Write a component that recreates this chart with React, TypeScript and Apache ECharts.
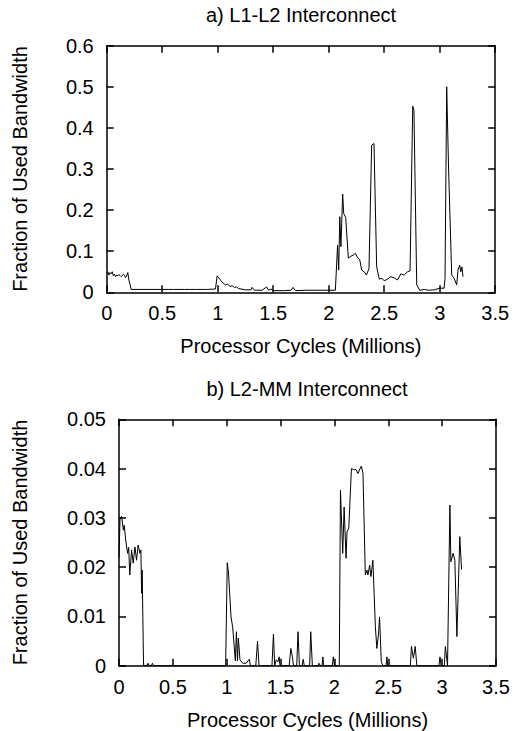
import React, { useEffect, useRef } from "react";
import * as echarts from "echarts";

// a) L1-L2 Interconnect : [Processor cycles (millions), fraction of used bandwidth]
const l1l2Data: [number, number][] = [
  [0.0, 0.045], [0.01, 0.05], [0.02, 0.042], [0.03, 0.048], [0.04, 0.045], [0.05, 0.05],
  [0.06, 0.04], [0.07, 0.044], [0.08, 0.038], [0.09, 0.042], [0.1, 0.04], [0.11, 0.043],
  [0.12, 0.041], [0.13, 0.038], [0.14, 0.04], [0.15, 0.044], [0.16, 0.042], [0.17, 0.036],
  [0.18, 0.04], [0.19, 0.048], [0.2, 0.03], [0.21, 0.02], [0.22, 0.007], [0.3, 0.007],
  [0.4, 0.007], [0.5, 0.007], [0.6, 0.007], [0.7, 0.007], [0.8, 0.007], [0.9, 0.007],
  [0.98, 0.008], [0.995, 0.04], [1.01, 0.035], [1.03, 0.028], [1.05, 0.022], [1.07, 0.018],
  [1.09, 0.02], [1.11, 0.014], [1.13, 0.016], [1.15, 0.012], [1.17, 0.013], [1.19, 0.009],
  [1.21, 0.008], [1.25, 0.006], [1.3, 0.006], [1.31, 0.012], [1.33, 0.005], [1.4, 0.005],
  [1.44, 0.013], [1.46, 0.005], [1.48, 0.008], [1.5, 0.004], [1.6, 0.004], [1.66, 0.005],
  [1.68, 0.012], [1.7, 0.004], [1.8, 0.005], [1.9, 0.005], [2.0, 0.005], [2.06, 0.005],
  [2.08, 0.115], [2.09, 0.054], [2.1, 0.184], [2.11, 0.111], [2.126, 0.239], [2.135, 0.192],
  [2.153, 0.182], [2.177, 0.083], [2.2, 0.088], [2.22, 0.09], [2.24, 0.095], [2.26, 0.085],
  [2.28, 0.079], [2.297, 0.054], [2.32, 0.05], [2.34, 0.042], [2.363, 0.058], [2.387, 0.358],
  [2.408, 0.362], [2.432, 0.062], [2.456, 0.032], [2.48, 0.034], [2.5, 0.028], [2.53, 0.032],
  [2.56, 0.038], [2.59, 0.035], [2.62, 0.03], [2.65, 0.045], [2.68, 0.042], [2.71, 0.05],
  [2.733, 0.052], [2.757, 0.453], [2.768, 0.444], [2.793, 0.018], [2.82, 0.005], [2.86, 0.007],
  [2.9, 0.005], [2.95, 0.006], [3.0, 0.01], [3.04, 0.01], [3.048, 0.034], [3.063, 0.5],
  [3.08, 0.3], [3.108, 0.042], [3.13, 0.034], [3.153, 0.018], [3.165, 0.054], [3.18, 0.066],
  [3.19, 0.05], [3.2, 0.062], [3.21, 0.038],
];

// b) L2-MM Interconnect
const l2mmData: [number, number][] = [
  [0.0, 0.022], [0.01, 0.03], [0.025, 0.0303], [0.04, 0.0275], [0.049, 0.0285], [0.062, 0.0255],
  [0.08, 0.0228], [0.09, 0.024], [0.1, 0.0184], [0.117, 0.0235], [0.132, 0.0208], [0.148, 0.0241],
  [0.163, 0.0214], [0.178, 0.0245], [0.194, 0.0228], [0.203, 0.0235], [0.21, 0.0147], [0.215, 0.0194],
  [0.228, 0], [0.26, 0], [0.27, 0.0005], [0.28, 0], [0.3, 0], [0.31, 0.0005], [0.32, 0], [0.99, 0],
  [1.005, 0.0209], [1.016, 0.019], [1.04, 0.0099], [1.055, 0.0079], [1.08, 0.001], [1.09, 0.0069],
  [1.1, 0.001], [1.108, 0.0056], [1.123, 0.0012], [1.15, 0.0005], [1.18, 0.0005], [1.21, 0.0013],
  [1.22, 0], [1.27, 0], [1.286, 0.005], [1.3, 0], [1.42, 0], [1.434, 0.0064], [1.445, 0],
  [1.46, 0.0012], [1.475, 0.0008], [1.487, 0.0018], [1.495, 0], [1.58, 0], [1.595, 0.0035],
  [1.61, 0.0018], [1.62, 0], [1.65, 0], [1.662, 0.0069], [1.675, 0], [1.7, 0], [1.71, 0.0013],
  [1.72, 0], [1.77, 0], [1.78, 0.0069], [1.795, 0], [1.85, 0], [1.856, 0.0005], [1.87, 0],
  [1.885, 0], [1.893, 0.0018], [1.9, 0], [1.98, 0], [1.99, 0.0018], [2.0, 0], [2.045, 0],
  [2.056, 0.0356], [2.077, 0.0228], [2.09, 0.0322], [2.108, 0.0218], [2.117, 0.0272], [2.133, 0.0279],
  [2.158, 0.04], [2.179, 0.0398], [2.2, 0.0398], [2.219, 0.039], [2.232, 0.0397], [2.25, 0.0405],
  [2.265, 0.039], [2.287, 0.0184], [2.302, 0.0194], [2.311, 0.0184], [2.327, 0.0204], [2.339, 0.0181],
  [2.357, 0.0214], [2.38, 0.0079], [2.394, 0.0035], [2.41, 0.0066], [2.419, 0.0099], [2.435, 0.0008],
  [2.45, 0], [2.48, 0], [2.487, 0.0018], [2.495, 0], [2.705, 0], [2.715, 0.0039], [2.733, 0.0015],
  [2.75, 0.0039], [2.765, 0], [2.97, 0], [2.98, 0.0018], [2.99, 0], [3.02, 0], [3.03, 0.0039],
  [3.05, 0], [3.072, 0.0326], [3.081, 0.0211], [3.102, 0.0228], [3.118, 0.0214], [3.137, 0.0059],
  [3.164, 0.0262], [3.18, 0.0195],
];

const titles = ["a) L1-L2 Interconnect", "b) L2-MM Interconnect"];
const xAxisName = "Processor Cycles (Millions)";
const yAxisName = "Fraction of Used Bandwidth";
const xRange = { min: 0, max: 3.5, interval: 0.5 };
const yRanges = [
  { min: 0, max: 0.6, interval: 0.1 },
  { min: 0, max: 0.05, interval: 0.01 },
];

const FONT = "'Liberation Sans', Arial, Helvetica, sans-serif";
const FS = 20;

export default function App() {
  const ref = useRef<HTMLDivElement>(null);
  useEffect(() => {
    if (!ref.current) return;
    const chart = echarts.init(ref.current, undefined, { renderer: "svg" });
    const grids = [
      { left: 106.7, top: 45.7, width: 388.5, height: 246.6 },
      { left: 119, top: 419.3, width: 377, height: 246.4 },
    ];
    const line = { show: true, onZero: false, lineStyle: { color: "#000", width: 1.5 } };
    const tick = { show: true, inside: true, length: 7, lineStyle: { color: "#000", width: 1.5 } };
    const xAxes: any[] = [];
    const yAxes: any[] = [];
    grids.forEach((_, i) => {
      xAxes.push({
        type: "value", gridIndex: i, position: "bottom", ...xRange,
        axisLine: line, axisTick: tick, splitLine: { show: false },
        axisLabel: { color: "#000", fontSize: FS, fontFamily: FONT, margin: 11 },
        name: xAxisName, nameLocation: "middle", nameGap: 44,
        nameTextStyle: { color: "#000", fontSize: FS, fontFamily: FONT },
      });
      xAxes.push({
        type: "value", gridIndex: i, position: "top", ...xRange,
        axisLine: line, axisTick: tick, splitLine: { show: false },
        axisLabel: { show: false },
      });
      yAxes.push({
        type: "value", gridIndex: i, position: "left", ...yRanges[i],
        axisLine: line, axisTick: tick, splitLine: { show: false },
        axisLabel: { color: "#000", fontSize: FS, fontFamily: FONT, margin: 13 },
      });
      yAxes.push({
        type: "value", gridIndex: i, position: "right", ...yRanges[i],
        axisLine: line, axisTick: tick, splitLine: { show: false },
        axisLabel: { show: false },
      });
    });
    const gText = (text: string, x: number, y: number, rot = 0) => ({
      type: "text", x, y, rotation: rot,
      style: { text, fill: "#000", font: `${FS}px ${FONT}`, textAlign: "center", textVerticalAlign: "middle" },
    });
    chart.setOption({
      animation: false,
      backgroundColor: "#fff",
      grid: grids,
      xAxis: xAxes,
      yAxis: yAxes,
      graphic: [
        gText(titles[0], 301, 15),
        gText(titles[1], 307, 389),
        gText(yAxisName, 20, 169, Math.PI / 2),
        gText(yAxisName, 20, 542.5, Math.PI / 2),
      ],
      series: [
        {
          type: "line", xAxisIndex: 0, yAxisIndex: 0, data: l1l2Data, showSymbol: false,
          lineStyle: { color: "#000", width: 1 }, silent: true,
        },
        {
          type: "line", xAxisIndex: 2, yAxisIndex: 2, data: l2mmData, showSymbol: false,
          lineStyle: { color: "#000", width: 1 }, silent: true,
        },
      ],
    });
    return () => chart.dispose();
  }, []);
  return (
    <div
      ref={ref}
      style={{ position: "absolute", left: 0, top: 0, width: 523, height: 731, background: "#fff" }}
    />
  );
}
